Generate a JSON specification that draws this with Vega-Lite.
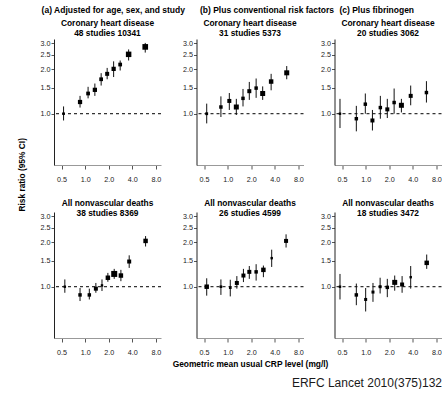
{
  "$schema": "https://vega.github.io/schema/vega-lite/v6.json",
  "padding": {"left": 17, "top": 6, "right": 0, "bottom": 0},
  "title": {"text": "ERFC Lancet 2010(375)132", "orient": "bottom", "anchor": "end", "fontSize": 12, "fontWeight": "normal", "color": "#1a1a1a", "offset": 10},
  "datasets": {
    "a": [
      {"x": 0.53, "rr": 1.00, "lo": 0.90, "hi": 1.12, "w": 7},
      {"x": 0.86, "rr": 1.20, "lo": 1.10, "hi": 1.32, "w": 18},
      {"x": 1.09, "rr": 1.37, "lo": 1.27, "hi": 1.52, "w": 14},
      {"x": 1.33, "rr": 1.45, "lo": 1.32, "hi": 1.60, "w": 18},
      {"x": 1.60, "rr": 1.71, "lo": 1.55, "hi": 1.88, "w": 14},
      {"x": 1.91, "rr": 1.86, "lo": 1.71, "hi": 2.04, "w": 16},
      {"x": 2.31, "rr": 2.01, "lo": 1.77, "hi": 2.26, "w": 18},
      {"x": 2.80, "rr": 2.15, "lo": 1.96, "hi": 2.29, "w": 14},
      {"x": 3.59, "rr": 2.52, "lo": 2.29, "hi": 2.72, "w": 30},
      {"x": 5.85, "rr": 2.83, "lo": 2.59, "hi": 3.01, "w": 32}
    ],
    "b": [
      {"x": 0.54, "rr": 1.00, "lo": 0.86, "hi": 1.17, "w": 8},
      {"x": 0.82, "rr": 1.11, "lo": 0.95, "hi": 1.31, "w": 12},
      {"x": 1.05, "rr": 1.22, "lo": 1.06, "hi": 1.38, "w": 16},
      {"x": 1.29, "rr": 1.11, "lo": 0.98, "hi": 1.26, "w": 25},
      {"x": 1.57, "rr": 1.27, "lo": 1.12, "hi": 1.47, "w": 12},
      {"x": 1.89, "rr": 1.42, "lo": 1.24, "hi": 1.64, "w": 16},
      {"x": 2.31, "rr": 1.49, "lo": 1.28, "hi": 1.73, "w": 12},
      {"x": 2.80, "rr": 1.37, "lo": 1.24, "hi": 1.53, "w": 25},
      {"x": 3.59, "rr": 1.65, "lo": 1.44, "hi": 1.86, "w": 20},
      {"x": 5.68, "rr": 1.89, "lo": 1.71, "hi": 2.10, "w": 25}
    ],
    "c": [
      {"x": 0.47, "rr": 1.00, "lo": 0.80, "hi": 1.26, "w": 6},
      {"x": 0.76, "rr": 0.925, "lo": 0.76, "hi": 1.13, "w": 12},
      {"x": 0.99, "rr": 1.16, "lo": 1.00, "hi": 1.37, "w": 12},
      {"x": 1.22, "rr": 0.90, "lo": 0.77, "hi": 1.06, "w": 16},
      {"x": 1.54, "rr": 1.10, "lo": 0.925, "hi": 1.32, "w": 12},
      {"x": 1.89, "rr": 1.07, "lo": 0.935, "hi": 1.26, "w": 16},
      {"x": 2.31, "rr": 1.19, "lo": 1.00, "hi": 1.48, "w": 12},
      {"x": 2.86, "rr": 1.14, "lo": 1.02, "hi": 1.26, "w": 25},
      {"x": 3.76, "rr": 1.32, "lo": 1.14, "hi": 1.55, "w": 16},
      {"x": 5.97, "rr": 1.39, "lo": 1.19, "hi": 1.66, "w": 12}
    ],
    "d": [
      {"x": 0.55, "rr": 1.00, "lo": 0.91, "hi": 1.12, "w": 6},
      {"x": 0.86, "rr": 0.88, "lo": 0.80, "hi": 0.98, "w": 12},
      {"x": 1.13, "rr": 0.88, "lo": 0.82, "hi": 0.97, "w": 12},
      {"x": 1.37, "rr": 0.97, "lo": 0.91, "hi": 1.06, "w": 16},
      {"x": 1.64, "rr": 1.02, "lo": 0.935, "hi": 1.12, "w": 6},
      {"x": 1.95, "rr": 1.15, "lo": 1.08, "hi": 1.24, "w": 20},
      {"x": 2.35, "rr": 1.22, "lo": 1.13, "hi": 1.32, "w": 36},
      {"x": 2.86, "rr": 1.19, "lo": 1.09, "hi": 1.30, "w": 20},
      {"x": 3.65, "rr": 1.48, "lo": 1.34, "hi": 1.63, "w": 16},
      {"x": 5.91, "rr": 2.04, "lo": 1.87, "hi": 2.20, "w": 20}
    ],
    "e": [
      {"x": 0.54, "rr": 1.00, "lo": 0.87, "hi": 1.14, "w": 20},
      {"x": 0.82, "rr": 1.00, "lo": 0.88, "hi": 1.12, "w": 7},
      {"x": 1.08, "rr": 0.985, "lo": 0.86, "hi": 1.115, "w": 7},
      {"x": 1.31, "rr": 1.06, "lo": 0.97, "hi": 1.18, "w": 16},
      {"x": 1.59, "rr": 1.19, "lo": 1.075, "hi": 1.32, "w": 16},
      {"x": 1.89, "rr": 1.26, "lo": 1.13, "hi": 1.38, "w": 16},
      {"x": 2.31, "rr": 1.26, "lo": 1.10, "hi": 1.42, "w": 12},
      {"x": 2.86, "rr": 1.30, "lo": 1.16, "hi": 1.39, "w": 20},
      {"x": 3.65, "rr": 1.56, "lo": 1.36, "hi": 1.78, "w": 6},
      {"x": 5.57, "rr": 2.04, "lo": 1.84, "hi": 2.26, "w": 16}
    ],
    "f": [
      {"x": 0.47, "rr": 1.00, "lo": 0.82, "hi": 1.22, "w": 6},
      {"x": 0.76, "rr": 0.88, "lo": 0.75, "hi": 1.05, "w": 12},
      {"x": 1.00, "rr": 0.82, "lo": 0.68, "hi": 0.98, "w": 9},
      {"x": 1.24, "rr": 0.92, "lo": 0.79, "hi": 1.06, "w": 9},
      {"x": 1.53, "rr": 1.00, "lo": 0.90, "hi": 1.15, "w": 9},
      {"x": 1.89, "rr": 0.99, "lo": 0.85, "hi": 1.13, "w": 12},
      {"x": 2.35, "rr": 1.07, "lo": 0.94, "hi": 1.19, "w": 25},
      {"x": 2.92, "rr": 1.035, "lo": 0.91, "hi": 1.18, "w": 16},
      {"x": 3.76, "rr": 1.16, "lo": 0.97, "hi": 1.38, "w": 6},
      {"x": 6.02, "rr": 1.45, "lo": 1.32, "hi": 1.65, "w": 20}
    ]
  },
  "vconcat": [
    {
      "title": {"text": "Risk ratio (95% CI)", "orient": "left", "anchor": "middle", "offset": 14, "dx": 12},
      "spacing": -14.5,
      "hconcat": [
        {
          "title": {"text": "(a) Adjusted for age, sex, and study", "anchor": "middle", "dx": 12.5, "offset": 4, "fontSize": 8.5},
          "spacing": 16,
          "vconcat": [
            {
              "width": 107, "height": 126,
              "title": {"text": ["Coronary heart disease", "48 studies 10341"], "anchor": "middle", "frame": "group", "offset": 2},
              "layer": [
                {"data": {"values": [{"ref": 1}]}, "mark": {"type": "rule", "color": "black", "strokeWidth": 1, "strokeDash": [3, 3]},
                 "encoding": {"y": {"field": "ref", "type": "quantitative", "scale": {"type": "log", "domain": [0.45, 3.2], "nice": false}, "axis": {"values": [1, 1.5, 2, 2.5, 3], "format": ".1f", "title": null}}}},
                {"data": {"name": "a"}, "mark": {"type": "rule", "color": "#111", "strokeWidth": 1},
                 "encoding": {"x": {"field": "x", "type": "quantitative", "scale": {"type": "log", "domain": [0.4, 9.3], "nice": false}, "axis": {"values": [0.5, 1, 2, 4, 8], "format": ".1f", "title": null}},
                              "y": {"field": "lo", "type": "quantitative", "scale": {"type": "log", "domain": [0.45, 3.2], "nice": false}, "axis": {"values": [1, 1.5, 2, 2.5, 3], "format": ".1f", "title": null}}, "y2": {"field": "hi"}}},
                {"data": {"name": "a"}, "mark": {"type": "square", "color": "black", "opacity": 1},
                 "encoding": {"x": {"field": "x", "type": "quantitative", "scale": {"type": "log", "domain": [0.4, 9.3], "nice": false}, "axis": {"values": [0.5, 1, 2, 4, 8], "format": ".1f", "title": null}},
                              "y": {"field": "rr", "type": "quantitative", "scale": {"type": "log", "domain": [0.45, 3.2], "nice": false}, "axis": {"values": [1, 1.5, 2, 2.5, 3], "format": ".1f", "title": null}},
                              "size": {"field": "w", "type": "quantitative", "scale": {"domain": [0, 36], "range": [0, 36]}, "legend": null}}}
              ]
            },
            {
              "width": 107, "height": 126,
              "title": {"text": ["All nonvascular deaths", "38 studies 8369"], "anchor": "middle", "frame": "group", "offset": -5.5},
              "layer": [
                {"data": {"values": [{"ref": 1}]}, "mark": {"type": "rule", "color": "black", "strokeWidth": 1, "strokeDash": [3, 3]},
                 "encoding": {"y": {"field": "ref", "type": "quantitative", "scale": {"type": "log", "domain": [0.45, 3.2], "nice": false}, "axis": {"values": [1, 1.5, 2, 2.5, 3], "format": ".1f", "title": null}}}},
                {"data": {"name": "d"}, "mark": {"type": "rule", "color": "#111", "strokeWidth": 1},
                 "encoding": {"x": {"field": "x", "type": "quantitative", "scale": {"type": "log", "domain": [0.4, 9.3], "nice": false}, "axis": {"values": [0.5, 1, 2, 4, 8], "format": ".1f", "title": null}},
                              "y": {"field": "lo", "type": "quantitative", "scale": {"type": "log", "domain": [0.45, 3.2], "nice": false}, "axis": {"values": [1, 1.5, 2, 2.5, 3], "format": ".1f", "title": null}}, "y2": {"field": "hi"}}},
                {"data": {"name": "d"}, "mark": {"type": "square", "color": "black", "opacity": 1},
                 "encoding": {"x": {"field": "x", "type": "quantitative", "scale": {"type": "log", "domain": [0.4, 9.3], "nice": false}, "axis": {"values": [0.5, 1, 2, 4, 8], "format": ".1f", "title": null}},
                              "y": {"field": "rr", "type": "quantitative", "scale": {"type": "log", "domain": [0.45, 3.2], "nice": false}, "axis": {"values": [1, 1.5, 2, 2.5, 3], "format": ".1f", "title": null}},
                              "size": {"field": "w", "type": "quantitative", "scale": {"domain": [0, 36], "range": [0, 36]}, "legend": null}}}
              ]
            }
          ]
        },
        {
          "title": {"text": "(b) Plus conventional risk factors", "anchor": "middle", "dx": 17, "offset": 4, "fontSize": 8.5},
          "spacing": 16,
          "vconcat": [
            {
              "width": 107, "height": 126,
              "title": {"text": ["Coronary heart disease", "31 studies 5373"], "anchor": "middle", "frame": "group", "offset": 2},
              "layer": [
                {"data": {"values": [{"ref": 1}]}, "mark": {"type": "rule", "color": "black", "strokeWidth": 1, "strokeDash": [3, 3]},
                 "encoding": {"y": {"field": "ref", "type": "quantitative", "scale": {"type": "log", "domain": [0.45, 3.2], "nice": false}, "axis": {"values": [1, 1.5, 2, 2.5, 3], "format": ".1f", "title": null}}}},
                {"data": {"name": "b"}, "mark": {"type": "rule", "color": "#111", "strokeWidth": 1},
                 "encoding": {"x": {"field": "x", "type": "quantitative", "scale": {"type": "log", "domain": [0.4, 9.3], "nice": false}, "axis": {"values": [0.5, 1, 2, 4, 8], "format": ".1f", "title": null}},
                              "y": {"field": "lo", "type": "quantitative", "scale": {"type": "log", "domain": [0.45, 3.2], "nice": false}, "axis": {"values": [1, 1.5, 2, 2.5, 3], "format": ".1f", "title": null}}, "y2": {"field": "hi"}}},
                {"data": {"name": "b"}, "mark": {"type": "square", "color": "black", "opacity": 1},
                 "encoding": {"x": {"field": "x", "type": "quantitative", "scale": {"type": "log", "domain": [0.4, 9.3], "nice": false}, "axis": {"values": [0.5, 1, 2, 4, 8], "format": ".1f", "title": null}},
                              "y": {"field": "rr", "type": "quantitative", "scale": {"type": "log", "domain": [0.45, 3.2], "nice": false}, "axis": {"values": [1, 1.5, 2, 2.5, 3], "format": ".1f", "title": null}},
                              "size": {"field": "w", "type": "quantitative", "scale": {"domain": [0, 36], "range": [0, 36]}, "legend": null}}}
              ]
            },
            {
              "width": 107, "height": 126,
              "title": {"text": ["All nonvascular deaths", "26 studies 4599"], "anchor": "middle", "frame": "group", "offset": -5.5},
              "layer": [
                {"data": {"values": [{"ref": 1}]}, "mark": {"type": "rule", "color": "black", "strokeWidth": 1, "strokeDash": [3, 3]},
                 "encoding": {"y": {"field": "ref", "type": "quantitative", "scale": {"type": "log", "domain": [0.45, 3.2], "nice": false}, "axis": {"values": [1, 1.5, 2, 2.5, 3], "format": ".1f", "title": null}}}},
                {"data": {"name": "e"}, "mark": {"type": "rule", "color": "#111", "strokeWidth": 1},
                 "encoding": {"x": {"field": "x", "type": "quantitative", "scale": {"type": "log", "domain": [0.4, 9.3], "nice": false}, "axis": {"values": [0.5, 1, 2, 4, 8], "format": ".1f", "title": "Geometric mean usual CRP level (mg/l)"}},
                              "y": {"field": "lo", "type": "quantitative", "scale": {"type": "log", "domain": [0.45, 3.2], "nice": false}, "axis": {"values": [1, 1.5, 2, 2.5, 3], "format": ".1f", "title": null}}, "y2": {"field": "hi"}}},
                {"data": {"name": "e"}, "mark": {"type": "square", "color": "black", "opacity": 1},
                 "encoding": {"x": {"field": "x", "type": "quantitative", "scale": {"type": "log", "domain": [0.4, 9.3], "nice": false}, "axis": {"values": [0.5, 1, 2, 4, 8], "format": ".1f", "title": "Geometric mean usual CRP level (mg/l)"}},
                              "y": {"field": "rr", "type": "quantitative", "scale": {"type": "log", "domain": [0.45, 3.2], "nice": false}, "axis": {"values": [1, 1.5, 2, 2.5, 3], "format": ".1f", "title": null}},
                              "size": {"field": "w", "type": "quantitative", "scale": {"domain": [0, 36], "range": [0, 36]}, "legend": null}}}
              ]
            }
          ]
        },
        {
          "title": {"text": "(c) Plus fibrinogen", "anchor": "middle", "dx": -4.5, "offset": 4, "fontSize": 8.5},
          "spacing": 16,
          "vconcat": [
            {
              "width": 107, "height": 126,
              "title": {"text": ["Coronary heart disease", "20 studies 3062"], "anchor": "middle", "frame": "group", "offset": 2},
              "layer": [
                {"data": {"values": [{"ref": 1}]}, "mark": {"type": "rule", "color": "black", "strokeWidth": 1, "strokeDash": [3, 3]},
                 "encoding": {"y": {"field": "ref", "type": "quantitative", "scale": {"type": "log", "domain": [0.45, 3.2], "nice": false}, "axis": {"values": [1, 1.5, 2, 2.5, 3], "format": ".1f", "title": null}}}},
                {"data": {"name": "c"}, "mark": {"type": "rule", "color": "#111", "strokeWidth": 1},
                 "encoding": {"x": {"field": "x", "type": "quantitative", "scale": {"type": "log", "domain": [0.4, 9.3], "nice": false}, "axis": {"values": [0.5, 1, 2, 4, 8], "format": ".1f", "title": null}},
                              "y": {"field": "lo", "type": "quantitative", "scale": {"type": "log", "domain": [0.45, 3.2], "nice": false}, "axis": {"values": [1, 1.5, 2, 2.5, 3], "format": ".1f", "title": null}}, "y2": {"field": "hi"}}},
                {"data": {"name": "c"}, "mark": {"type": "square", "color": "black", "opacity": 1},
                 "encoding": {"x": {"field": "x", "type": "quantitative", "scale": {"type": "log", "domain": [0.4, 9.3], "nice": false}, "axis": {"values": [0.5, 1, 2, 4, 8], "format": ".1f", "title": null}},
                              "y": {"field": "rr", "type": "quantitative", "scale": {"type": "log", "domain": [0.45, 3.2], "nice": false}, "axis": {"values": [1, 1.5, 2, 2.5, 3], "format": ".1f", "title": null}},
                              "size": {"field": "w", "type": "quantitative", "scale": {"domain": [0, 36], "range": [0, 36]}, "legend": null}}}
              ]
            },
            {
              "width": 107, "height": 126,
              "title": {"text": ["All nonvascular deaths", "18 studies 3472"], "anchor": "middle", "frame": "group", "offset": -5.5},
              "layer": [
                {"data": {"values": [{"ref": 1}]}, "mark": {"type": "rule", "color": "black", "strokeWidth": 1, "strokeDash": [3, 3]},
                 "encoding": {"y": {"field": "ref", "type": "quantitative", "scale": {"type": "log", "domain": [0.45, 3.2], "nice": false}, "axis": {"values": [1, 1.5, 2, 2.5, 3], "format": ".1f", "title": null}}}},
                {"data": {"name": "f"}, "mark": {"type": "rule", "color": "#111", "strokeWidth": 1},
                 "encoding": {"x": {"field": "x", "type": "quantitative", "scale": {"type": "log", "domain": [0.4, 9.3], "nice": false}, "axis": {"values": [0.5, 1, 2, 4, 8], "format": ".1f", "title": null}},
                              "y": {"field": "lo", "type": "quantitative", "scale": {"type": "log", "domain": [0.45, 3.2], "nice": false}, "axis": {"values": [1, 1.5, 2, 2.5, 3], "format": ".1f", "title": null}}, "y2": {"field": "hi"}}},
                {"data": {"name": "f"}, "mark": {"type": "square", "color": "black", "opacity": 1},
                 "encoding": {"x": {"field": "x", "type": "quantitative", "scale": {"type": "log", "domain": [0.4, 9.3], "nice": false}, "axis": {"values": [0.5, 1, 2, 4, 8], "format": ".1f", "title": null}},
                              "y": {"field": "rr", "type": "quantitative", "scale": {"type": "log", "domain": [0.45, 3.2], "nice": false}, "axis": {"values": [1, 1.5, 2, 2.5, 3], "format": ".1f", "title": null}},
                              "size": {"field": "w", "type": "quantitative", "scale": {"domain": [0, 36], "range": [0, 36]}, "legend": null}}}
              ]
            }
          ]
        }
      ]
    }
  ],
  "config": {
    "font": "Liberation Sans",
    "view": {"stroke": null},
    "title": {"font": "Liberation Sans", "fontSize": 8.4, "fontWeight": "bold", "color": "black", "lineHeight": 10},
    "axis": {"grid": false, "labelFont": "Liberation Sans", "labelFontSize": 7.2, "labelColor": "#222", "tickColor": "#555", "tickWidth": 1, "domainWidth": 1, "titleFont": "Liberation Sans", "titleFontSize": 8.4, "titleFontWeight": "bold", "titleColor": "black"},
    "axisX": {"domainColor": "#999", "tickSize": 4, "labelPadding": 6, "titlePadding": 4},
    "axisY": {"domainColor": "#222", "tickSize": 3, "labelPadding": 1}
  }
}
